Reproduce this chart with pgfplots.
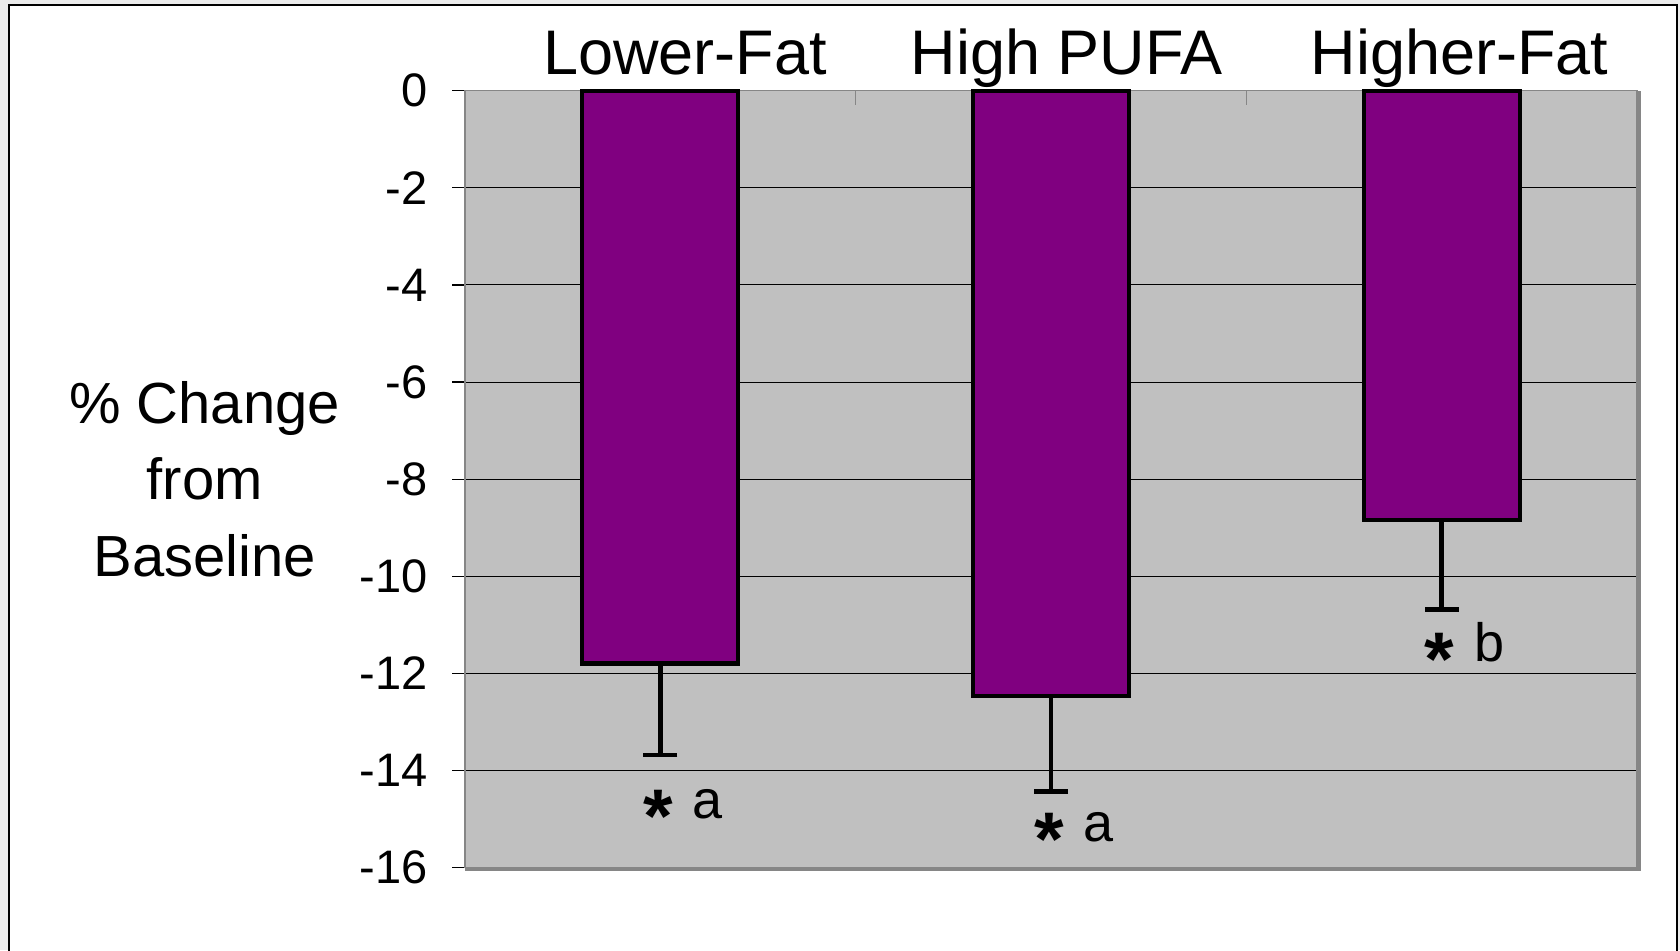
\documentclass[border=0pt]{standalone}
\usepackage{pgfplots}
\pgfplotsset{compat=1.18}
\usepackage{fontspec}
\setmainfont{Liberation Sans}
\definecolor{barpurple}{HTML}{800080}
\definecolor{plotbg}{HTML}{C0C0C0}
\definecolor{pagebg}{HTML}{EBEBEB}
\definecolor{framegray}{HTML}{868686}
\newcommand{\sig}[1]{\raisebox{-12pt}{\fontsize{38}{38}\selectfont\bfseries *}\hspace{10pt}#1}
\begin{document}
\begin{tikzpicture}
\useasboundingbox (0,0) rectangle (840pt,475pt);
\clip (0,0) rectangle (840pt,475pt);
\fill[pagebg] (0,0) rectangle (840pt,475pt);
\draw[fill=white, line width=0.8pt] (4.5pt,-10pt) rectangle (838.5pt,472.5pt);
% main axis
\begin{axis}[
  at={(232.5pt,41.3pt)}, anchor=south west,
  width=586pt, height=388.3pt, scale only axis,
  xmin=-0.5, xmax=2.5, ymin=-16, ymax=0,
  clip=false,
  axis background/.style={fill=plotbg},
  axis line style={draw=framegray, line width=0.6pt},
  tick align=outside,
  ytick={-16,-14,-12,-10,-8,-6,-4,-2,0},
  yticklabels={-16,-14,-12,-10,-8,-6,-4,-2,0},
  ytick pos=left,
  major tick length=6.5pt,
  ytick style={black, line width=0.6pt},
  ymajorgrids, major grid style={black, line width=0.5pt},
  yticklabel style={font=\fontsize{23.5}{28}\selectfont, xshift=-8.8pt},
  xtick={0.063,1.04,2.046},
  xticklabels={Lower-Fat,High PUFA,Higher-Fat},
  xticklabel pos=top,
  xtick style={draw=none},
  xticklabel style={font=\fontsize{31.5}{36}\selectfont, anchor=base, yshift=1.8pt},
  ylabel={\% Change\\from\\Baseline},
  ylabel style={rotate=-90, at={(axis description cs:-0.2222,0.5)}, anchor=center, align=center, font=\fontsize{29}{38.3}\selectfont},
]
\addplot[ybar, bar width=78pt, fill=barpurple, draw=black, line width=2.1pt,
  error bars/.cd, y dir=minus, y explicit,
  error bar style={black, line width=2.3pt},
  error mark options={black, rotate=90, mark size=8.5pt, line width=2.3pt}]
  coordinates {(0,-11.80) +- (0,1.88) (1,-12.47) +- (0,1.96) (2,-8.84) +- (0,1.85)};
\draw[framegray, line width=2pt] ([yshift=-1pt]rel axis cs:0,0) -- ([xshift=1pt,yshift=-1pt]rel axis cs:1,0) -- ([xshift=1pt]rel axis cs:1,1);
\node[anchor=base west, xshift=-12pt, font=\fontsize{27}{32}\selectfont] at (axis cs:0,-15.00) {\sig{a}};
\node[anchor=base west, xshift=-12pt, font=\fontsize{27}{32}\selectfont] at (axis cs:1,-15.47) {\sig{a}};
\node[anchor=base west, xshift=-12pt, font=\fontsize{27}{32}\selectfont] at (axis cs:2,-11.76) {\sig{b}};
\end{axis}
% boundary ticks on top
\begin{axis}[
  at={(232.5pt,41.3pt)}, anchor=south west,
  width=586pt, height=388.3pt, scale only axis,
  xmin=-0.5, xmax=2.5, ymin=-16, ymax=0,
  axis line style={draw=none},
  ytick=\empty,
  xtick={0.5,1.5}, xticklabels={},
  xtick pos=top,
  tick align=inside, major tick length=7pt,
  xtick style={framegray, line width=0.6pt},
]
\addplot[draw=none] coordinates {(0,-1)};
\end{axis}
\end{tikzpicture}
\end{document}
